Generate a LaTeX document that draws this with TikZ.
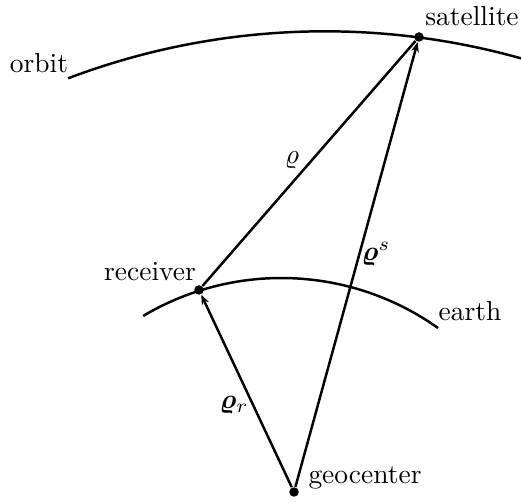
\documentclass[tikz,border=0pt]{standalone}
\usepackage{amsmath}
\usepackage{bm}
\usetikzlibrary{arrows.meta}
\begin{document}
\begin{tikzpicture}[x=0.364pt,y=0.364pt,
  pt/.style={circle,fill=black,inner sep=0pt,minimum size=9.5*0.364pt},
  curve/.style={line width=0.9pt},
  vec/.style={line width=0.9pt,-{Stealth[length=3.6pt,width=2.8pt]}},
  lbl/.style={inner sep=0pt}]
\useasboundingbox (0,0) rectangle (521,502);
% orbit and earth arcs
\coordinate (orbc) at (324.9,-254.3);
\coordinate (earc) at (281.3,-46.6);
\draw[curve] (orbc) ++(110.75:725) arc[start angle=110.75,end angle=74.3,radius=725];
\draw[curve] (earc) ++(120.7:270.6) arc[start angle=120.7,end angle=54.6,radius=270.6];
% points
\node[pt] (sat) at (419,465) {};
\node[pt] (rec) at (199,212) {};
\node[pt] (geo) at (294,10) {};
% vectors
\draw[curve] (rec) -- (sat);
\draw[vec] (geo) -- (sat);
\draw[vec] (geo) -- (rec);
% labels
\node[lbl] (lorbit) at (39,439) {orbit};
\node[lbl] (lsat) at (472,486) {satellite};
\node[lbl] (lrec) at (150,230) {receiver};
\node[lbl] (learth) at (470,191) {earth};
\node[lbl] (lgeo) at (365,24) {geocenter};
\node[lbl] (lrho) at (292,342) {$\varrho$};
\node[lbl] (lrhos) at (376,248) {$\bm{\varrho}^s$};
\node[lbl] (lrhor) at (234,97) {$\bm{\varrho}_r$};
\end{tikzpicture}
\end{document}
